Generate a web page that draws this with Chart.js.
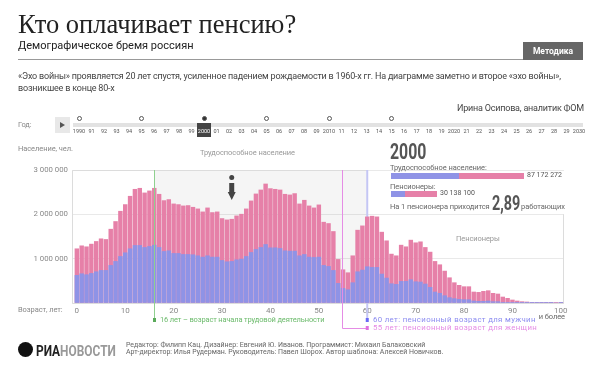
<!DOCTYPE html>
<html lang="ru">
<head>
<meta charset="utf-8">
<title>Кто оплачивает пенсию?</title>
<script src="https://cdn.jsdelivr.net/npm/chart.js@4/dist/chart.umd.min.js"></script>
<style>
  html, body { margin: 0; padding: 0; background: #fff; }
  #page { position: relative; width: 600px; height: 371px; overflow: hidden; font-family: Roboto, sans-serif; color: #333; }
  #page canvas { position: absolute; left: 0; top: 0; }
  .t { position: absolute; white-space: nowrap; line-height: 1; }
  .s { font-size: 7.5px; letter-spacing: -0.08px; }
  .d { font-size: 9px; letter-spacing: -0.2px; color: #444; }
  .narrow { font-weight: bold; color: #555; transform: scaleX(0.72); transform-origin: left top; }
  .bar { position: absolute; }
</style>
</head>
<body>
<div id="page">
  <canvas id="pyramid" width="600" height="371"></canvas>

  <div class="t" style="left:18px;top:9px;font:26.5px 'Liberation Serif',serif;color:#222">Кто оплачивает пенсию?</div>
  <div class="t" style="left:18px;top:40px;font-size:11px;color:#222">Демографическое бремя россиян</div>
  <div style="position:absolute;left:18px;top:59px;width:505px;height:1px;background:#999"></div>
  <div class="t" style="left:523px;top:42px;width:60px;height:18px;line-height:18px;background:#666;color:#fff;font-size:8.5px;font-weight:bold;text-align:center">Методика</div>
  <div class="t d" style="left:18px;top:71.5px">«Эхо войны» проявляется 20 лет спустя, усиленное падением рождаемости в 1960-х гг. На диаграмме заметно и второе «эхо войны»,</div>
  <div class="t d" style="left:18px;top:83.5px">возникшее в конце 80-х</div>
  <div class="t d" style="right:16px;top:103.5px">Ирина Осипова, аналитик ФОМ</div>

  <div class="t s" style="left:18px;top:121px;color:#888">Год:</div>
  <div id="timeline"></div>

  <div class="t s" style="left:18px;top:145px;color:#888">Население, чел.</div>
  <div class="t s" style="left:200px;top:149px;color:#999">Трудоспособное население</div>
  <div class="t s" style="left:456px;top:235px;color:#999">Пенсионеры</div>
  <div class="t s" style="left:18px;top:306px;color:#888">Возраст, лет:</div>
  <div class="t s" style="right:35px;top:313px;color:#666">и более</div>

  <div class="t narrow" style="left:390px;top:141px;font-size:22px">2000</div>
  <div class="t s" style="left:390px;top:164px;color:#666">Трудоспособное население:</div>
  <div class="bar" style="left:391px;top:173px;width:68px;height:6px;background:#8f93e6"></div>
  <div class="bar" style="left:459px;top:173px;width:65px;height:6px;background:#e680a8"></div>
  <div class="t" style="left:527px;top:172px;font-size:7px;color:#555">87 172 272</div>
  <div class="t s" style="left:390px;top:183px;color:#666">Пенсионеры:</div>
  <div class="bar" style="left:391px;top:191px;width:14px;height:6px;background:#8f93e6"></div>
  <div class="bar" style="left:405px;top:191px;width:32px;height:6px;background:#e680a8"></div>
  <div class="t" style="left:440px;top:190px;font-size:7px;color:#555">30 138 100</div>
  <div class="t s" style="left:390px;top:203px;color:#666">На 1 пенсионера приходится</div>
  <div class="t narrow" style="left:492px;top:193px;font-size:20px">2,89</div>
  <div class="t s" style="left:521px;top:203px;color:#666">работающих</div>

  <div class="t s" style="left:160px;top:316px;letter-spacing:-0.15px;color:#6dbb6d">16 лет – возраст начала трудовой деятельности</div>
  <div class="t" style="left:373px;top:316px;font-size:7.8px;letter-spacing:0.35px;color:#8c8cf0">60 лет: пенсионный возраст для мужчин</div>
  <div class="t" style="left:373px;top:324px;font-size:7.8px;letter-spacing:0.35px;color:#e58ce5">55 лет: пенсионный возраст для женщин</div>

  <div style="position:absolute;left:18px;top:342px;width:15px;height:15px;border-radius:50%;background:#111"></div>
  <div class="t" style="left:36px;top:343px;font:bold 14px Roboto,sans-serif;color:#222;transform:scaleX(0.85);transform-origin:left top">РИА<span style="color:#999">НОВОСТИ</span></div>
  <div class="t" style="left:126px;top:342px;font-size:7px;color:#666">Редактор: Филипп Кац. Дизайнер: Евгений Ю. Иванов. Программист: Михаил Балаковский</div>
  <div class="t" style="left:126px;top:349px;font-size:7px;color:#666">Арт-директор: Илья Рудерман. Руководитель: Павел Шорох. Автор шаблона: Алексей Новичков.</div>
</div>

<script>
// Возраст, 0..100
const ages = Array.from({ length: 101 }, (_, i) => i);
const ageTicks = [0, 10, 20, 30, 40, 50, 60, 70, 80, 90, 100];
const populationTicks = [0, 1000000, 2000000, 3000000];

// Всё население по возрастам, тыс. чел.
const totalThousands = [
  1223, 1290, 1268, 1328, 1388, 1448, 1433, 1665, 1838, 2070,
  2220, 2408, 2565, 2588, 2483, 2528, 2588, 2453, 2310, 2333,
  2235, 2220, 2190, 2198, 2160, 2123, 2055, 2145, 2040, 2055,
  1905, 1875, 1890, 1965, 2003, 2123, 2303, 2460, 2550, 2685,
  2580, 2565, 2550, 2453, 2438, 2468, 2235, 2318, 2190, 2145,
  2213, 1823, 1793, 1613, 983, 750, 683, 1065, 1643, 1740,
  1943, 1958, 1943, 1598, 1403, 1103, 1065, 1305, 1268, 1418,
  1358, 1380, 1253, 1148, 938, 863, 720, 570, 458, 398,
  368, 368, 248, 240, 263, 278, 218, 203, 135, 105,
  68, 45, 30, 23, 15, 8, 6, 5, 4, 3, 8
];

// Мужчины по возрастам, тыс. чел.
const menThousands = [
  623, 660, 638, 668, 705, 735, 735, 848, 938, 1050,
  1133, 1223, 1298, 1298, 1253, 1275, 1305, 1253, 1163, 1178,
  1118, 1118, 1095, 1095, 1088, 1065, 1035, 1065, 1035, 1035,
  960, 930, 938, 975, 990, 1050, 1140, 1208, 1253, 1320,
  1245, 1245, 1230, 1178, 1170, 1170, 1065, 1095, 1035, 1028,
  1035, 848, 825, 735, 443, 330, 300, 458, 705, 743,
  818, 803, 803, 653, 563, 435, 420, 488, 488, 525,
  480, 473, 428, 353, 248, 218, 165, 120, 98, 83,
  75, 75, 45, 38, 38, 45, 30, 30, 15, 15,
  8, 6, 4, 3, 2, 1, 1, 1, 1, 0, 1
];

// Шкала лет
const years = ["1990", "91", "92", "93", "94", "95", "96", "97", "98", "99", "2000", "01", "02", "03", "04", "05", "06", "07", "08", "09", "2010", "11", "12", "13", "14", "15", "16", "17", "18", "19", "2020", "21", "22", "23", "24", "25", "26", "27", "28", "29", "2030"];
const yearMarks = [0, 5, 10, 15, 20, 25];
const currentYear = 10;

const workStart = 16;
const pensionWomen = 55;
const pensionMen = 60;
const arrowAge = 32;

// Таймлайн
const timeline = document.getElementById('timeline');
let html = '<div class="bar" style="left:73px;top:123px;width:510px;height:4px;background:#e2e2e2"></div>' +
  '<div class="bar" style="left:55px;top:117px;width:15px;height:16px;background:#e8e8e8"></div>' +
  '<div class="bar" style="left:60px;top:122px;width:0;height:0;border-left:5px solid #555;border-top:3px solid transparent;border-bottom:3px solid transparent"></div>' +
  '<div class="bar" style="left:197px;top:123px;width:14px;height:14px;background:#444"></div>';
years.forEach((y, i) => {
  const x = 79 + i * 12.5;
  const color = i === currentYear ? '#fff' : '#555';
  html += '<div class="t" style="left:' + (x - 8) + 'px;width:16px;text-align:center;top:128.5px;font-size:5.5px;color:' + color + '">' + y + '</div>';
});
yearMarks.forEach(i => {
  const x = 79 + i * 12.5;
  const fill = i === currentYear ? '#333' : '#fff';
  html += '<div class="bar" style="left:' + (x - 2.5) + 'px;top:115.5px;width:3px;height:3px;border:1px solid #555;border-radius:50%;background:' + fill + '"></div>';
});
timeline.innerHTML = html;

// Фон, рамка, отметки возрастов
const marks = {
  id: 'marks',
  beforeDatasetsDraw(chart) {
    const { ctx, chartArea: a, scales: { x, y } } = chart;
    ctx.save();
    ctx.fillStyle = 'rgba(120,120,120,0.07)';
    ctx.fillRect(x.getPixelForValue(workStart), a.top, x.getPixelForValue(pensionMen) - x.getPixelForValue(workStart), a.bottom - a.top);

    ctx.strokeStyle = '#dcdcdc';
    ctx.lineWidth = 1;
    ctx.beginPath();
    ctx.moveTo(x.getPixelForValue(pensionMen), a.top + 0.5);
    ctx.lineTo(a.left + 0.5, a.top + 0.5);
    ctx.lineTo(a.left + 0.5, a.bottom + 0.5);
    ctx.lineTo(a.right - 0.5, a.bottom + 0.5);
    ctx.lineTo(a.right - 0.5, y.getPixelForValue(2000000));
    ctx.stroke();

    ctx.strokeStyle = '#c4c6f4';
    ctx.lineWidth = 2;
    ctx.beginPath();
    ctx.moveTo(x.getPixelForValue(pensionMen), a.top);
    ctx.lineTo(x.getPixelForValue(pensionMen), 320);
    ctx.stroke();
    ctx.restore();
  },
  afterDatasetsDraw(chart) {
    const { ctx, chartArea: a, scales: { x } } = chart;
    const green = Math.round(x.getPixelForValue(workStart)) + 0.5;
    const pink = Math.round(x.getPixelForValue(pensionWomen)) - 0.5;
    const blue = x.getPixelForValue(pensionMen);
    ctx.save();
    ctx.lineWidth = 1;
    ctx.strokeStyle = '#8fd08f';
    ctx.beginPath();
    ctx.moveTo(green, a.top);
    ctx.lineTo(green, 320);
    ctx.stroke();
    ctx.strokeStyle = '#e58ce5';
    ctx.beginPath();
    ctx.moveTo(pink, a.top);
    ctx.lineTo(pink, 328.5);
    ctx.lineTo(blue, 328.5);
    ctx.stroke();
    ctx.fillStyle = '#5aaa5a';
    ctx.fillRect(green - 1.5, 318, 3, 4);
    ctx.fillStyle = '#6a6af5';
    ctx.fillRect(blue - 1.5, 318, 3, 4);
    ctx.fillStyle = '#e070e0';
    ctx.fillRect(blue - 1.5, 326, 3, 4);

    // Стрелка
    const ax = x.getPixelForValue(arrowAge);
    ctx.fillStyle = '#444';
    ctx.beginPath();
    ctx.arc(ax, 177.5, 2.5, 0, Math.PI * 2);
    ctx.fill();
    ctx.beginPath();
    ctx.moveTo(ax - 2.5, 183);
    ctx.lineTo(ax + 2.5, 183);
    ctx.lineTo(ax + 2.5, 192);
    ctx.lineTo(ax + 4, 192);
    ctx.lineTo(ax, 200);
    ctx.lineTo(ax - 4, 192);
    ctx.lineTo(ax - 2.5, 192);
    ctx.closePath();
    ctx.fill();
    ctx.restore();
  }
};

const ctx = document.getElementById('pyramid').getContext('2d');
const pyramid = new Chart(ctx, {
  type: 'bar',
  data: {
    labels: ages,
    datasets: [{
      label: 'Мужчины',
      data: menThousands.map(v => v * 1000),
      backgroundColor: '#8f93e6',
      barThickness: 3.8,
      order: 1
    }, {
      label: 'Всего',
      data: totalThousands.map(v => v * 1000),
      backgroundColor: '#e680a8',
      barThickness: 3.8,
      order: 2
    }]
  },
  options: {
    responsive: false,
    animation: false,
    layout: { padding: { top: 170, right: 36, bottom: 0, left: 0 } },
    plugins: {
      legend: { display: false },
      tooltip: { enabled: false }
    },
    scales: {
      x: {
        type: 'linear',
        offset: false,
        stacked: true,
        min: -1,
        max: 100.65,
        afterBuildTicks: scale => { scale.ticks = ageTicks.map(value => ({ value })); },
        afterFit: scale => { scale.height = 68; },
        grid: { display: false, drawTicks: false, tickLength: 0 },
        border: { display: false },
        ticks: {
          autoSkip: false,
          maxRotation: 0,
          padding: 3,
          color: '#888',
          font: { family: "Roboto, sans-serif", size: 8 }
        }
      },
      y: {
        stacked: false,
        min: 0,
        max: 3000000,
        afterBuildTicks: scale => { scale.ticks = populationTicks.map(value => ({ value })); },
        afterFit: scale => { scale.width = 72; },
        grid: { color: '#e9e9e9', drawTicks: false },
        border: { display: false },
        ticks: {
          padding: 4,
          color: '#888',
          font: { family: "Roboto, sans-serif", size: 7.8 },
          callback: v => v === 0 ? '' : String(v).replace(/\B(?=(\d{3})+$)/g, ' ')
        }
      }
    }
  },
  plugins: [marks]
});
</script>
</body>
</html>
